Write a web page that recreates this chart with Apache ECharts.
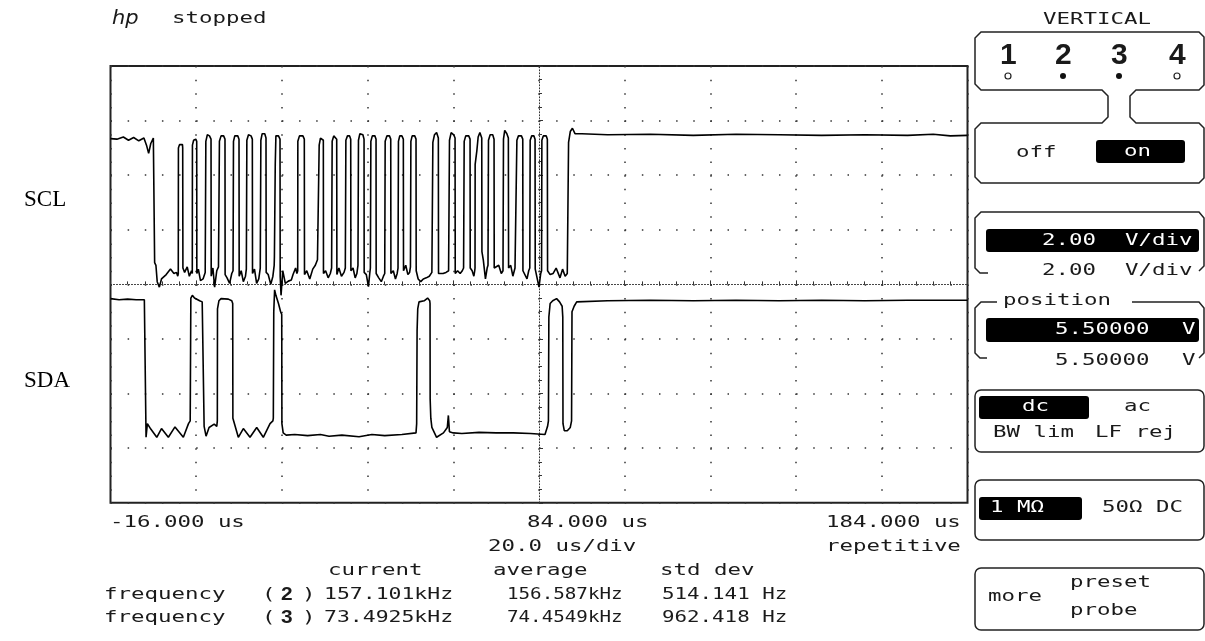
<!DOCTYPE html>
<html>
<head>
<meta charset="utf-8">
<script src="https://cdn.jsdelivr.net/npm/echarts@6/dist/echarts.min.js"></script>
<style>
html,body{margin:0;padding:0;background:#fff;}
#chart{width:1205px;height:641px;}
</style>
</head>
<body>
<div id="chart"></div>
<script>
// ---- data (time in us, level in screen divisions from centre) ----
const sclPoints = [
[-16,2.67],[-14.5,2.66],[-13,2.70],[-11.8,2.64],[-10.6,2.69],[-9.4,2.63],[-8.2,2.68],[-7.6,2.55],[-7.1,2.40],[-6.6,2.58],[-6.0,2.68],[-5.75,2.66],
[-5.7,0.40],[-5.4,0.35],[-5.1,0.05],[-4.6,-0.05],[-4.1,0.10],[-3.0,0.18],[-2.0,0.28],[-1.2,0.20],[-0.6,0.22],[-0.3,0.15],
[-0.18,0.20],[-0.15,2.50],[0.1,2.56],[0.8,2.56],[0.85,2.50],[0.9,0.30],[1.3,0.22],[1.9,0.32],[2.4,0.15],[2.9,0.25],
[3.09,0.20],[3.12,2.55],[3.4,2.64],[3.9,2.66],[4.12,2.62],[4.15,0.20],[4.5,0.28],[5.0,0.07],[5.6,0.10],[6.1,0.22],
[6.22,0.20],[6.25,2.62],[6.6,2.74],[7.1,2.72],[7.46,2.66],[7.5,0.15],[7.9,0.30],[8.3,-0.05],[8.8,0.25],[9.2,0.32],
[9.39,0.30],[9.42,2.62],[9.8,2.72],[10.4,2.72],[10.72,2.66],[10.75,0.18],[11.2,0.12],[11.8,0.02],[12.3,0.20],[12.6,0.25],
[12.66,0.25],[12.7,2.62],[13.0,2.72],[13.7,2.72],[13.99,2.66],[14.03,0.15],[14.5,0.25],[15.0,0.05],[15.5,0.15],[15.7,0.28],
[15.79,0.28],[15.82,2.64],[16.2,2.74],[16.8,2.72],[17.10,2.66],[17.14,0.20],[17.6,0.28],[18.1,0.02],[18.6,0.10],[18.95,0.30],
[19.06,0.30],[19.09,2.64],[19.4,2.76],[20.0,2.76],[20.29,2.68],[20.33,0.22],[20.8,0.18],[21.4,0.0],[21.9,0.15],[22.2,0.35],
[22.25,0.50],[22.45,2.20],[22.6,2.72],[23.2,2.72],[23.56,2.66],[23.6,0.15],[23.8,-0.20],[24.2,0.25],[24.8,0.02],[25.5,0.06],[26.2,0.08],[26.6,0.18],[27.2,0.30],[27.5,0.20],
[27.69,0.25],[27.72,2.62],[28.1,2.72],[28.9,2.72],[29.23,2.66],[29.27,0.18],[29.8,0.25],[30.5,0.10],[31.2,0.28],[31.8,0.35],[32.3,0.45],
[32.66,0.45],[32.7,2.55],[33.0,2.68],[33.4,2.70],[33.67,2.64],[33.7,0.20],[34.2,0.25],[34.8,0.12],[35.3,0.20],[35.6,0.30],
[35.70,0.30],[35.73,2.62],[36.1,2.72],[36.5,2.72],[36.79,2.66],[36.83,0.18],[37.3,0.30],[37.9,0.15],[38.5,0.22],[38.8,0.30],
[38.90,0.30],[38.93,2.64],[39.3,2.72],[39.8,2.72],[40.06,2.66],[40.1,0.25],[40.6,0.30],[41.1,0.12],[41.5,0.20],[41.75,0.35],
[41.84,0.35],[41.87,2.64],[42.2,2.76],[42.9,2.74],[43.17,2.66],[43.2,0.22],[43.7,0.18],[44.2,-0.04],[44.5,0.20],[44.65,0.30],
[44.73,0.30],[44.76,2.62],[45.1,2.72],[45.7,2.72],[45.97,2.66],[46.0,0.20],[46.6,0.12],[47.2,0.05],[47.7,0.15],[48.0,0.20],
[48.07,0.20],[48.1,2.62],[48.5,2.72],[49.1,2.72],[49.40,2.66],[49.44,0.20],[50.0,0.25],[50.5,0.10],[50.9,0.20],[51.1,0.30],
[51.17,0.30],[51.2,2.62],[51.5,2.72],[52.0,2.72],[52.34,2.66],[52.38,0.25],[52.9,0.35],[53.4,0.18],[53.8,0.22],[54.0,0.32],
[54.07,0.32],[54.1,2.62],[54.4,2.72],[55.0,2.72],[55.30,2.66],[55.34,0.25],[55.8,0.10],[56.4,0.05],[57.0,0.10],[57.7,0.12],[58.4,0.15],[59.0,0.22],
[59.20,0.25],[59.23,2.60],[59.6,2.74],[60.1,2.78],[60.51,2.68],[60.55,0.20],[61.0,0.22],[61.6,0.20],[62.3,0.22],[62.9,0.25],
[63.08,0.25],[63.11,2.64],[63.5,2.78],[64.1,2.74],[64.41,2.68],[64.45,0.20],[65.0,0.25],[65.6,0.20],[66.1,0.25],[66.4,0.30],
[66.51,0.30],[66.54,2.62],[66.9,2.72],[67.6,2.72],[67.91,2.66],[67.95,0.30],[68.4,0.25],[68.8,0.15],[69.0,0.25],
[69.07,0.30],[69.1,2.20],[69.5,2.45],[69.8,2.70],[70.2,2.78],[70.64,2.68],[70.68,0.60],[71.0,0.45],[71.5,0.10],[71.9,0.30],[72.1,0.35],
[72.18,0.35],[72.21,2.64],[72.6,2.74],[73.2,2.74],[73.51,2.66],[73.55,0.30],[74.0,0.30],[74.6,0.35],[75.2,0.20],[75.6,0.25],
[75.68,0.25],[75.71,2.66],[76.0,2.82],[76.5,2.76],[76.85,2.68],[76.9,0.30],[77.4,0.35],[77.9,0.15],[78.4,0.30],[78.7,0.30],
[78.81,0.30],[78.84,2.64],[79.2,2.72],[79.9,2.72],[80.21,2.66],[80.25,0.25],[80.7,0.22],[81.2,0.10],[81.6,0.25],[81.85,0.30],
[81.91,0.30],[81.94,2.64],[82.3,2.72],[82.8,2.72],[83.08,2.66],[83.12,0.28],[83.6,0.10],[84.0,-0.05],[84.4,0.20],[84.6,0.25],
[84.64,0.25],[84.67,2.64],[85.0,2.72],[85.7,2.72],[85.95,2.66],[86.0,0.25],[86.6,0.18],[87.3,0.20],[88.0,0.30],[88.4,0.22],[88.9,0.12],[89.5,0.28],[90.1,0.15],[90.6,0.20],
[90.85,0.20],[90.9,2.60],[91.3,2.80],[91.8,2.86],[92.4,2.76],[94,2.76],[100,2.74],[110,2.75],[120,2.73],[130,2.75],[140,2.74],[150,2.73],[160,2.74],[170,2.73],[176,2.75],[180,2.72],[184,2.73]
];
const sdaPoints = [
[-16,-0.26],[-14,-0.28],[-12,-0.27],[-10,-0.28],[-8.1,-0.28],[-7.75,-0.28],[-7.7,-2.80],[-7.4,-2.55],[-6.6,-2.65],[-5.2,-2.80],[-4.1,-2.64],[-2.5,-2.80],[-0.95,-2.61],[1.0,-2.80],[2.2,-2.55],[2.6,-2.50],
[2.75,-0.25],[3.1,-0.20],[3.6,-0.25],[4.8,-0.30],[5.4,-0.32],[5.82,-0.35],
[5.85,-2.60],[6.3,-2.78],[7.0,-2.62],[8.2,-2.56],[8.8,-2.60],[8.93,-2.50],
[8.97,-0.45],[9.3,-0.30],[9.8,-0.26],[11.5,-0.27],[12.3,-0.30],[12.52,-0.35],
[12.56,-2.45],[13.83,-2.80],[15.0,-2.64],[16.56,-2.80],[18.12,-2.62],[19.66,-2.80],[21.23,-2.55],[21.9,-2.50],
[22.0,-2.45],[22.1,-0.50],[22.3,-0.10],[22.6,-0.20],[23.2,-0.35],[23.7,-0.50],[23.96,-0.55],
[24.0,-2.55],[24.3,-2.72],[25,-2.76],[27,-2.75],[30,-2.77],[33,-2.75],[35,-2.78],[38,-2.76],[42,-2.79],[45,-2.75],[48,-2.77],[52,-2.75],[55.3,-2.72],
[55.45,-2.55],[55.55,-0.85],[55.7,-0.45],[56.0,-0.32],[57.2,-0.30],[58.0,-0.25],[58.5,-0.30],[58.57,-0.35],
[58.6,-2.10],[58.75,-2.45],[59.0,-2.62],[60.1,-2.80],[61.7,-2.72],[62.6,-2.62],[62.85,-2.40],[63.1,-2.70],[64.0,-2.72],[66,-2.73],[70,-2.71],[74,-2.72],[78,-2.72],[82,-2.73],[85.4,-2.75],
[86.0,-2.60],[86.2,-2.50],[86.3,-0.60],[86.6,-0.35],[87.2,-0.30],[88.1,-0.26],[88.8,-0.32],[89.4,-0.40],[89.55,-0.60],
[89.6,-2.55],[89.9,-2.68],[90.6,-2.68],[91.3,-2.62],[91.6,-2.50],
[91.7,-0.50],[92.2,-0.40],[92.8,-0.32],[100,-0.30],[110,-0.29],[120,-0.30],[130,-0.29],[140,-0.30],[150,-0.29],[160,-0.30],[170,-0.29],[184,-0.29]
];
const timeLabels = ['-16.000 us', '84.000 us', '184.000 us'];
const timeInfo = ['20.0 us/div', 'repetitive'];
const statHeads = ['current', 'average', 'std dev'];
const channels = ['2', '3'];
const currentVals = ['157.101kHz', '73.4925kHz'];
const averageVals = ['156.587kHz', '74.4549kHz'];
const stdVals = ['514.141 Hz', '962.418 Hz'];
const traceNames = ['SCL', 'SDA'];

// ---- layout ----
const G = {left: 110.5, top: 66, width: 857, height: 436.8};
const MONO = '16px "DejaVu Sans Mono"';
const SX = 1.4;
const INK = '#1a1a1a';

function T(s, x, y, o) {
  o = o || {};
  return {
    type: 'text', x: x, y: y, scaleX: o.sx == null ? SX : o.sx, silent: true, z: 10,
    style: {
      text: s, x: 0, y: 0, fill: o.fill || INK, font: o.font || MONO,
      textAlign: 'left', align: 'left', textVerticalAlign: 'middle', verticalAlign: 'middle'
    }
  };
}
function P(points, closed) {
  return {type: closed ? 'polygon' : 'polyline', silent: true, z: 5, shape: {points: points},
    style: {stroke: '#222', lineWidth: 1.5, fill: closed ? 'none' : null}};
}
function R(x, y, w, h, r, fill) {
  return {type: 'rect', silent: true, z: fill ? 6 : 5, shape: {x: x, y: y, width: w, height: h, r: r},
    style: fill ? {fill: fill} : {fill: 'none', stroke: '#222', lineWidth: 1.5}};
}
function C(x, y, filled) {
  return {type: 'circle', silent: true, z: 6, shape: {cx: x, cy: y, r: 3},
    style: filled ? {fill: '#111'} : {fill: '#fff', stroke: '#222', lineWidth: 1.2}};
}

const g = [];
// header
g.push(T('hp', 112, 19, {font: 'italic 20px "DejaVu Sans"', sx: 1.05}));
g.push(T('stopped', 172, 19));
g.push(T('VERTICAL', 1043, 20));
// trace names
g.push(T(traceNames[0], 24, 200, {font: '23px "Liberation Serif"', sx: 1, fill: '#000'}));
g.push(T(traceNames[1], 24, 381, {font: '23px "Liberation Serif"', sx: 1, fill: '#000'}));
// bottom texts
g.push(T(timeLabels[0], 110, 523));
g.push(T(timeLabels[1], 527, 523));
g.push(T(timeLabels[2], 826, 523));
g.push(T(timeInfo[0], 488, 547));
g.push(T(timeInfo[1], 826, 547));
g.push(T(statHeads[0], 328, 571));
g.push(T(statHeads[1], 493, 571));
g.push(T(statHeads[2], 660, 571));
[595, 618].forEach(function (yy, i) {
  g.push(T('frequency', 104, yy));
  g.push(T('(', 262, yy));
  g.push(T(channels[i], 281, yy, {font: '700 19px "Liberation Sans"', sx: 1.1}));
  g.push(T(')', 302, yy));
  g.push(T(currentVals[i], 324, yy, {sx: 1.34}));
  g.push(T(averageVals[i], 507, yy, {sx: 1.2}));
  g.push(T(stdVals[i], 662, yy, {sx: 1.3}));
});

// right panel outlines
g.push(P([[1199,32],[981,32],[975,38],[975,84],[981,90],[1102,90],[1108,96],[1108,117],[1102,123],[981,123],[975,129],[975,177],[981,183],[1199,183],[1204,178],[1204,128],[1199,123],[1136,123],[1130,117],[1130,96],[1136,90],[1199,90],[1204,85],[1204,37]], true));
g.push(P([[988,273],[980,273],[975,268],[975,218],[981,212],[1199,212],[1204,218],[1204,266],[1199,271]]));
g.push(P([[997,302],[981,302],[975,308],[975,353],[980,358],[987,358]]));
g.push(P([[1132,302],[1199,302],[1204,308],[1204,353],[1199,358]]));
g.push(R(975, 390, 229, 62, 6));
g.push(R(975, 480, 229, 60, 6));
g.push(R(975, 568, 229, 62, 6));
// black highlight boxes
g.push(R(1096, 140, 89, 23, 3, '#000'));
g.push(R(986, 229, 213, 23, 3, '#000'));
g.push(R(986, 318, 213, 24, 3, '#000'));
g.push(R(979, 396, 110, 23, 3, '#000'));
g.push(R(979, 497, 103, 23, 3, '#000'));
// channel selector
['1', '2', '3', '4'].forEach(function (d, i) {
  const cx = [1008, 1063, 1119, 1177][i];
  g.push(T(d, cx - 8, 56, {font: '700 30px "Liberation Sans"', sx: 1}));
  g.push(C(cx, 76, i === 1 || i === 2));
});
// panel texts
g.push(T('off', 1016, 153));
g.push(T('on', 1124, 152, {fill: '#fff'}));
g.push(T('2.00', 1042, 241, {fill: '#fff'}));
g.push(T('V/div', 1125, 241, {fill: '#fff'}));
g.push(T('2.00', 1042, 271));
g.push(T('V/div', 1125, 271));
g.push(T('position', 1003, 301));
g.push(T('5.50000', 1055, 330, {fill: '#fff'}));
g.push(T('V', 1182, 330, {fill: '#fff'}));
g.push(T('5.50000', 1055, 361));
g.push(T('V', 1182, 361));
g.push(T('dc', 1022, 407, {fill: '#fff'}));
g.push(T('ac', 1124, 407));
g.push(T('BW lim', 993, 433));
g.push(T('LF rej', 1095, 433));
g.push(T('1 M\u03A9', 990, 508, {fill: '#fff'}));
g.push(T('50\u03A9 DC', 1102, 508));
g.push(T('more', 988, 597));
g.push(T('preset', 1070, 583));
g.push(T('probe', 1070, 611));

const chart = echarts.init(document.getElementById('chart'));
chart.setOption({
  animation: false,
  backgroundColor: '#fff',
  grid: {left: G.left, top: G.top, width: G.width, height: G.height, show: true, borderColor: '#222', borderWidth: 2, backgroundColor: 'transparent'},
  xAxis: [{
    type: 'value', min: -16, max: 184, interval: 20,
    axisLabel: {show: false},
    axisLine: {show: true, onZero: true, lineStyle: {color: '#333', width: 1, type: [1, 2]}},
    axisTick: {show: true, inside: true, length: 4, lineStyle: {color: '#333', width: 1}},
    minorTick: {show: true, splitNumber: 5, length: 3, lineStyle: {color: '#333', width: 1}},
    splitLine: {show: true, lineStyle: {color: '#333', width: 1.5, type: [1.5, 12.15]}}
  }],
  yAxis: [{
    type: 'value', min: -4, max: 4, interval: 1,
    axisLabel: {show: false},
    axisLine: {show: false, onZero: false},
    axisTick: {show: false},
    splitLine: {show: true, lineStyle: {color: '#333', width: 1.5, type: [1.5, 15.64]}}
  }, {
    type: 'value', min: -4, max: 4, interval: 1, position: 'left', offset: -G.width / 2,
    axisLabel: {show: false},
    axisLine: {show: true, onZero: false, lineStyle: {color: '#333', width: 1, type: [1, 2]}},
    axisTick: {show: true, inside: true, length: 4, lineStyle: {color: '#333'}},
    minorTick: {show: true, splitNumber: 4, length: 3, lineStyle: {color: '#333'}},
    splitLine: {show: false}
  }],
  series: [{
    name: traceNames[0], type: 'line', data: sclPoints, showSymbol: false, symbol: 'none',
    lineStyle: {color: '#000', width: 1.6}, z: 3
  }, {
    name: traceNames[1], type: 'line', data: sdaPoints, showSymbol: false, symbol: 'none',
    lineStyle: {color: '#000', width: 1.6}, z: 3
  }],
  graphic: g
});
</script>
</body>
</html>
